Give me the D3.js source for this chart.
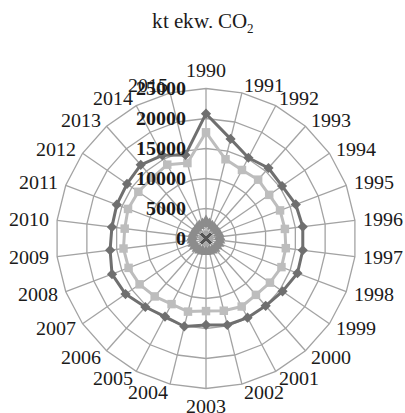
<!DOCTYPE html>
<html><head><meta charset="utf-8"><script src="https://cdn.jsdelivr.net/npm/d3@7"></script>
<style>
@font-face { font-family: "ChartSerif"; src: local("Liberation Serif"), local("LiberationSerif"), local("Liberation Serif Regular"), local("LiberationSerif-Regular"); font-weight: normal; }
@font-face { font-family: "ChartSerif"; src: local("Liberation Serif Bold"), local("LiberationSerif-Bold"); font-weight: bold; }
</style>
</head>
<body style="margin:0">
<svg id="s" width="405" height="413"></svg>
<script>
// ---- data ----
const categories = ["1990","1991","1992","1993","1994","1995","1996","1997","1998","1999",
  "2000","2001","2002","2003","2004","2005","2006","2007","2008","2009",
  "2010","2011","2012","2013","2014","2015"];
const seriesDark = [20800,17100,15200,15700,15400,16000,16250,16250,16300,15500,
  15000,14900,14850,14400,15100,14700,15250,16300,16750,16100,
  15800,15900,16000,16400,15650,14350];
const seriesLight = [17700,13600,12900,13100,12800,13200,13250,13400,13450,12950,
  12550,12800,12400,12100,12550,12350,12900,13450,13800,13850,
  13650,13900,13700,13500,13900,12950];
const seriesSmall = [2900,2500,2300,2200,2200,2300,2300,2300,2300,2200,
  2200,2200,2200,2200,2200,2200,2200,2300,2300,2300,
  2300,2300,2200,2300,2400,2500];
const seriesTiny = [1100,1000,1000,1000,1000,1000,1000,1000,1000,1000,
  1000,1000,1000,1000,1000,1000,1000,1000,1000,1000,
  1000,1000,1000,1000,1000,1000];
const seriesZero = [0,0,0,0,0,0,0,0,0,0,0,0,0,0,0,0,0,0,0,0,0,0,0,0,0,0];
const radialTicks = [0,5000,10000,15000,20000,25000];
const titleMain = "kt ekw. CO";
const titleSub = "2";

const FONT = '"ChartSerif", "Liberation Serif", "Times New Roman", Times, serif';

// ---- layout ----
const svg = d3.select("#s");
const cx = 206, cy = 238.5, R = 150;
const n = categories.length;
const r = d3.scaleLinear().domain([0, 25000]).range([0, R]);
const ang = d3.scaleLinear().domain([0, n]).range([0, 2 * Math.PI]);
const px = (i, v) => r(v) * Math.sin(ang(i));
const py = (i, v) => -r(v) * Math.cos(ang(i));

function addText(x, y, str, size, anchor, bold) {
  const t = svg.append("text")
    .attr("x", x).attr("y", y).attr("dy", "0.35em")
    .attr("text-anchor", anchor)
    .style("font-family", FONT)
    .attr("font-size", size).attr("fill", "#1a1a1a")
    .text(str);
  if (bold) t.attr("font-weight", "bold");
  return t;
}

// title
const title = svg.append("text").attr("x", 203).attr("y", 28).attr("text-anchor", "middle")
  .style("font-family", FONT).attr("font-size", 21).attr("fill", "#1a1a1a");
title.append("tspan").text(titleMain);
title.append("tspan").attr("font-size", 13).attr("dy", 5).text(titleSub);

const g = svg.append("g").attr("transform", `translate(${cx},${cy})`);

// grid polygons
const gridColor = "#a3a3a3";
radialTicks.slice(1).forEach(t => {
  g.append("path")
    .attr("d", d3.lineRadial().angle((d, i) => ang(i)).radius(() => r(t)).curve(d3.curveLinearClosed)(categories))
    .attr("fill", "none").attr("stroke", gridColor).attr("stroke-width", 1.3);
});
// spokes
categories.forEach((c, i) => {
  g.append("line")
    .attr("x1", 0).attr("y1", 0)
    .attr("x2", px(i, 25000)).attr("y2", py(i, 25000))
    .attr("stroke", gridColor).attr("stroke-width", 1.3);
});

// series
function drawSeries(vals, color, width, symType, symSize, rotate) {
  g.append("path")
    .attr("d", d3.lineRadial().angle((d, i) => ang(i)).radius(d => r(d)).curve(d3.curveLinearClosed)(vals))
    .attr("fill", "none").attr("stroke", color).attr("stroke-width", width).attr("stroke-linejoin", "round");
  const sym = d3.symbol().type(symType).size(symSize);
  g.selectAll(null).data(vals).enter().append("path")
    .attr("d", sym)
    .attr("transform", (d, i) => `translate(${px(i, d)},${py(i, d)}) rotate(${rotate})`)
    .attr("fill", color);
}
drawSeries(seriesTiny, "#a8a8a8", 1.5, d3.symbolCircle, 6, 0);
drawSeries(seriesSmall, "#8c8c8c", 3, d3.symbolTriangle, 55, 0);
drawSeries(seriesLight, "#bdbdbd", 3, d3.symbolSquare, 72, 0);
drawSeries(seriesDark, "#6f6f6f", 3, d3.symbolSquare, 52, 45);

// zero series: x markers
const xs = d3.symbol().type(d3.symbolX).size(60);
g.selectAll(null).data(seriesZero).enter().append("path")
  .attr("d", xs)
  .attr("transform", (d, i) => `translate(${px(i, d)},${py(i, d)})`)
  .attr("fill", "none").attr("stroke", "#555").attr("stroke-width", 2);

// radial tick labels
radialTicks.forEach(d => addText(cx - 20, cy - r(d), String(d), 19.5, "end", true));

// category labels
categories.forEach((c, i) => {
  const a = ang(i);
  const s = Math.sin(a), co = Math.cos(a);
  const rr = R + 8;
  let x = cx + rr * s, y = cy - rr * co;
  let anchor = "middle";
  if (s > 0.05) anchor = "start";
  else if (s < -0.05) anchor = "end";
  else y = y - co * 10;
  addText(x, y, c, 19.5, anchor, false);
});
</script>
</body></html>
